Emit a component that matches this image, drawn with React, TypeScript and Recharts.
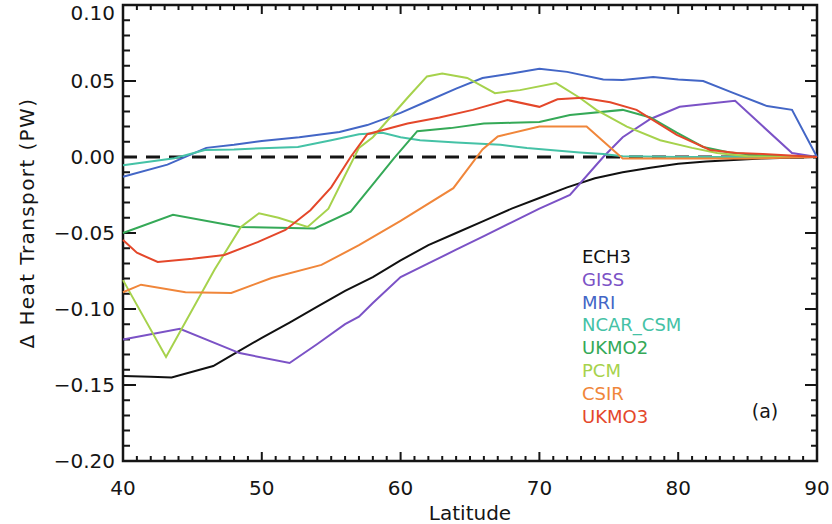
import React from 'react';
import {
  LineChart,
  Line,
  XAxis,
  YAxis,
  ReferenceLine,
  ReferenceArea,
} from 'recharts';

// latitude / Δ heat transport (PW) per model
const ech3Lat = [40, 42, 43.5, 46.5, 48, 50, 52, 54, 56, 58, 60, 62, 64, 66, 68, 70, 72, 74, 76, 78, 80, 82, 84, 86, 88, 90];
const ech3Val = [-0.144, -0.1445, -0.145, -0.1375, -0.1295, -0.119, -0.109, -0.0985, -0.088, -0.079, -0.068, -0.058, -0.05, -0.042, -0.034, -0.027, -0.02, -0.014, -0.01, -0.007, -0.0045, -0.003, -0.002, -0.001, -0.0005, 0];

const gissLat = [40, 44.1, 48.4, 52, 54, 56, 57, 58, 60, 62, 64, 66, 68, 70, 72.2, 74.6, 76, 78, 80.1, 84.1, 86, 88.2, 90];
const gissVal = [-0.12, -0.113, -0.129, -0.1355, -0.123, -0.11, -0.105, -0.096, -0.079, -0.07, -0.061, -0.052, -0.043, -0.034, -0.025, 0.0, 0.013, 0.025, 0.033, 0.037, 0.021, 0.0026, 0];

const mriLat = [40, 43.2, 46, 48, 50, 52.7, 55.6, 57.6, 60, 62, 64, 65.9, 68, 70, 72, 74.6, 76, 78.2, 80, 81.8, 84, 86.4, 88.2, 90];
const mriVal = [-0.013, -0.005, 0.006, 0.008, 0.0105, 0.013, 0.0164, 0.021, 0.029, 0.037, 0.045, 0.052, 0.055, 0.058, 0.056, 0.051, 0.0507, 0.0526, 0.051, 0.05, 0.042, 0.0335, 0.031, 0];

const ncarLat = [40, 43.7, 45.9, 48, 50, 52.6, 55, 57, 58.7, 60, 61.4, 64, 67.2, 69.1, 72.9, 74.6, 76, 80, 85, 90];
const ncarVal = [-0.0055, -0.0008, 0.0046, 0.005, 0.0058, 0.0066, 0.011, 0.015, 0.016, 0.013, 0.011, 0.0095, 0.008, 0.006, 0.003, 0.002, 0.0005, 0, 0, 0];

const ukmo2Lat = [40, 43.6, 48.4, 53.8, 56.4, 58, 59.5, 61.2, 63.6, 66, 68, 70, 72.2, 76, 78, 79.9, 81.8, 83.7, 86, 90];
const ukmo2Val = [-0.05, -0.038, -0.046, -0.047, -0.036, -0.018, -0.001, 0.017, 0.019, 0.022, 0.0225, 0.023, 0.0276, 0.031, 0.026, 0.016, 0.0066, 0.003, 0.001, 0];

const pcmLat = [40, 43.1, 46.6, 48.5, 49.8, 51.2, 53.3, 54.8, 56, 57, 58, 60.5, 61.9, 63, 64.8, 66.8, 68.6, 71.2, 72.9, 74.1, 76.3, 78.7, 81, 82.8, 85, 90];
const pcmVal = [-0.081, -0.1316, -0.074, -0.046, -0.037, -0.04, -0.046, -0.034, -0.012, 0.006, 0.013, 0.039, 0.053, 0.055, 0.052, 0.042, 0.044, 0.0486, 0.039, 0.031, 0.02, 0.011, 0.006, 0.0026, 0.0005, 0];

const csirLat = [40, 41.3, 44.5, 47.8, 50.7, 54.3, 57, 60, 63.8, 65.9, 67, 70, 73.4, 76, 80, 85, 90];
const csirVal = [-0.089, -0.084, -0.089, -0.0895, -0.0796, -0.071, -0.058, -0.042, -0.0205, 0.005, 0.0135, 0.02, 0.02, -0.001, -0.001, -0.001, 0];

const ukmo3Lat = [40, 41, 42.5, 45, 47.3, 49.7, 51.7, 53.5, 55, 56.4, 57.6, 60.5, 62.8, 65.2, 67.7, 70, 71.3, 73.1, 75.1, 77, 79.9, 82.3, 84.2, 86.1, 90];
const ukmo3Val = [-0.0546, -0.063, -0.069, -0.067, -0.0645, -0.056, -0.048, -0.035, -0.02, 0.0, 0.015, 0.022, 0.026, 0.031, 0.0375, 0.033, 0.038, 0.039, 0.036, 0.031, 0.0145, 0.0046, 0.0026, 0.002, 0];

const models = [
  { name: 'ECH3', color: '#111111', lat: ech3Lat, val: ech3Val },
  { name: 'GISS', color: '#7b52c6', lat: gissLat, val: gissVal },
  { name: 'MRI', color: '#4366c6', lat: mriLat, val: mriVal },
  { name: 'NCAR_CSM', color: '#45c2a6', lat: ncarLat, val: ncarVal },
  { name: 'UKMO2', color: '#35a957', lat: ukmo2Lat, val: ukmo2Val },
  { name: 'PCM', color: '#a6d24c', lat: pcmLat, val: pcmVal },
  { name: 'CSIR', color: '#f0863a', lat: csirLat, val: csirVal },
  { name: 'UKMO3', color: '#e4472a', lat: ukmo3Lat, val: ukmo3Val },
];

const xLabels = [40, 50, 60, 70, 80, 90];
const yLabels = [-0.2, -0.15, -0.1, -0.05, 0, 0.05, 0.1];

// minor ticks every 1° and every 0.01 PW
const xTicks = Array.from({ length: 51 }, (_, i) => 40 + i);
const yTicks = Array.from({ length: 31 }, (_, i) => Math.round(-20 + i) / 100);

const FONT = '"DejaVu Sans", sans-serif';
const INK = '#151515';

const isXMajor = (v: number) => xLabels.includes(v);
const isYMajor = (v: number) => yLabels.some((l) => Math.abs(l - v) < 1e-6);
const fmtY = (v: number) => (v < -1e-9 ? '\u2212' : '') + Math.abs(v).toFixed(2);

const bottomLabel = (props: any) => {
  const v = props.payload.value;
  return (
    <text key={`b${v}`} x={props.x} y={Number(props.y) + 34} textAnchor="middle" fontSize={20} fontFamily={FONT} fill={INK}>
      {v}
    </text>
  );
};

const leftLabel = (props: any) => {
  const v = props.payload.value;
  // the top label sits just inside the page edge
  const ty = Math.max(Number(props.y), 13);
  return (
    <text key={`l${v}`} x={Number(props.x) - 8} y={ty + 7} textAnchor="end" fontSize={20} fontFamily={FONT} fill={INK}>
      {fmtY(v)}
    </text>
  );
};

// inward tick marks at both ends of a full-height / full-width reference line
const xTickShape = (len: number) => (p: any) => {
  const top = Math.min(p.y1, p.y2);
  const bottom = Math.max(p.y1, p.y2);
  return (
    <path
      d={`M${p.x1},${bottom}v${-len}M${p.x1},${top}v${len}`}
      stroke={INK}
      strokeWidth={2}
      fill="none"
    />
  );
};

const yTickShape = (lenL: number, lenR: number) => (p: any) => {
  const left = Math.min(p.x1, p.x2);
  const right = Math.max(p.x1, p.x2);
  return (
    <path
      d={`M${left},${p.y1}h${lenL}M${right},${p.y1}h${-lenR}`}
      stroke={INK}
      strokeWidth={2}
      fill="none"
    />
  );
};

export default function App() {
  return (
    <div style={{ position: 'fixed', left: 0, top: 0, width: 832, height: 524, background: '#fff' }}>
      <LineChart width={832} height={524} margin={{ top: 5, right: 15, bottom: 0, left: 0 }}>
        <XAxis
          dataKey="lat"
          type="number"
          domain={[40, 90]}
          ticks={xLabels}
          interval={0}
          tickSize={0}
          tickMargin={0}
          tickLine={false}
          axisLine={false}
          tick={bottomLabel}
          height={63}
          allowDuplicatedCategory={false}
        />
        <YAxis
          type="number"
          domain={[-0.2, 0.1]}
          ticks={yLabels}
          interval={0}
          tickSize={0}
          tickMargin={0}
          tickLine={false}
          axisLine={false}
          tick={leftLabel}
          width={123}
          allowDataOverflow
        />
        <ReferenceArea x1={40} x2={90} y1={-0.2} y2={0.1} fill="none" stroke={INK} strokeWidth={2.5} />
        {xTicks.map((v) => (
          <ReferenceLine key={`xt${v}`} x={v} stroke={INK} shape={xTickShape(isXMajor(v) ? 9 : 5)} />
        ))}
        {yTicks.map((v) => (
          <ReferenceLine
            key={`yt${v}`}
            y={v}
            stroke={INK}
            shape={yTickShape(isYMajor(v) ? 13 : 7, isYMajor(v) ? 12 : 6)}
          />
        ))}
        <ReferenceLine y={0} stroke={INK} strokeWidth={3} strokeDasharray="14 9" />
        {models.map((m) => (
          <Line
            key={m.name}
            data={m.lat.map((lat, i) => ({ lat, v: m.val[i] }))}
            dataKey="v"
            name={m.name}
            type="linear"
            stroke={m.color}
            strokeWidth={2}
            dot={false}
            activeDot={false}
            isAnimationActive={false}
          />
        ))}
        <text x={470} y={520} textAnchor="middle" fontSize={20} fontFamily={FONT} fill={INK}>
          Latitude
        </text>
        <text
          x={34}
          y={223}
          transform="rotate(-90 34 223)"
          textAnchor="middle"
          fontSize={20}
          letterSpacing={1.4}
          fontFamily={FONT}
          fill={INK}
        >
          {'\u0394 Heat Transport (PW)'}
        </text>
        <text x={765} y={418} textAnchor="middle" fontSize={19} fontFamily={FONT} fill={INK}>
          (a)
        </text>
      </LineChart>
      <div
        style={{
          position: 'absolute',
          left: 582,
          top: 246,
          fontFamily: FONT,
          fontSize: 18,
          lineHeight: '22.8px',
        }}
      >
        {models.map((m) => (
          <div key={m.name} style={{ color: m.color }}>
            {m.name}
          </div>
        ))}
      </div>
    </div>
  );
}
